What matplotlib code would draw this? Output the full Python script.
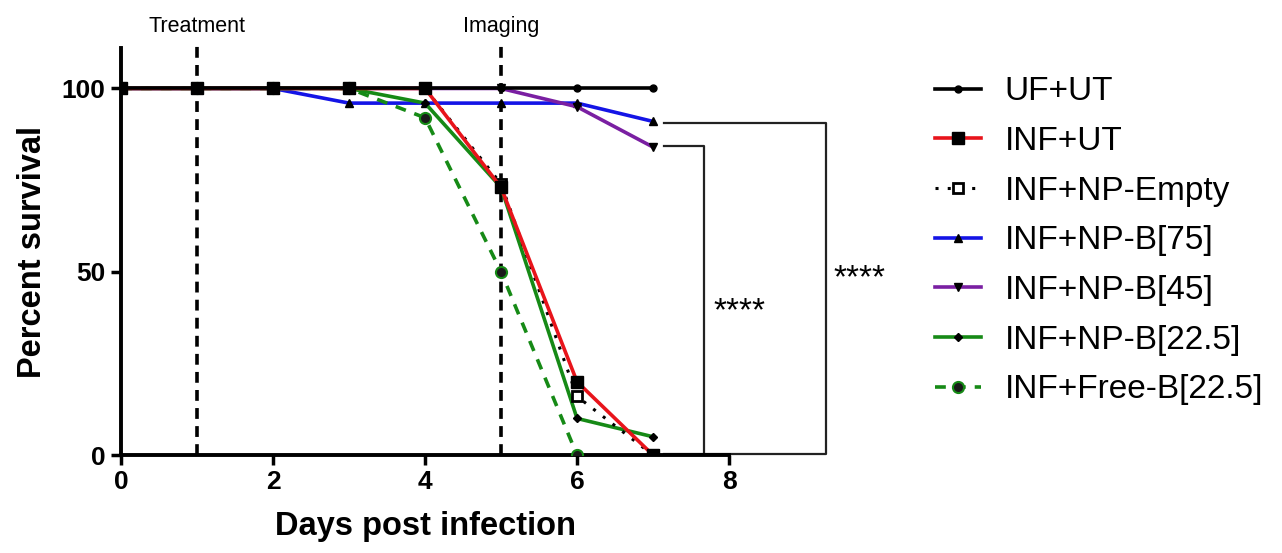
import matplotlib.pyplot as plt
import numpy as np

plt.rcParams['font.family'] = ['Liberation Sans', 'DejaVu Sans']

days = [0, 1, 2, 3, 4, 5, 6, 7]

# percent survival per group
uf_ut = [100, 100, 100, 100, 100, 100, 100, 100]
inf_ut = [100, 100, 100, 100, 100, 73, 20, 0]
inf_np_empty = [100, 100, 100, 100, 100, 74, 16, 0]
inf_np_b75 = [100, 100, 100, 96, 96, 96, 96, 91]
inf_np_b45 = [100, 100, 100, 100, 100, 100, 95, 84]
inf_np_b225 = [100, 100, 100, 100, 96, 73, 10, 5]
inf_free_b225 = [100, 100, 100, 100, 92, 50, 0]

labels = ['UF+UT', 'INF+UT', 'INF+NP-Empty', 'INF+NP-B[75]',
          'INF+NP-B[45]', 'INF+NP-B[22.5]', 'INF+Free-B[22.5]']

# treatment / imaging days
events = [1, 5]
event_names = ['Treatment', 'Imaging']

fig = plt.figure(figsize=(12.82, 5.53), dpi=100)
ax = fig.add_axes([0.0944, 0.177, 0.4743, 0.736])

lw = 2.6
ax.plot(days, uf_ut, color='black', lw=lw, marker='o', ms=5, mfc='black', mec='black', zorder=5, label=labels[0])
ax.plot(days, inf_ut, color='#e8141b', lw=lw, marker='s', ms=8, mfc='black', mec='black', zorder=4.5, label=labels[1])
ax.plot(days, inf_np_empty, color='black', lw=2.2, ls=(0, (1, 3)), marker='s', ms=7, mfc='white',
        mec='black', mew=2, zorder=4, label=labels[2])
ax.plot(days, inf_np_b75, color='#1414e6', lw=lw, marker='^', ms=6, mfc='black', mec='black', zorder=3, label=labels[3])
ax.plot(days, inf_np_b45, color='#7a1fa2', lw=lw, marker='v', ms=6, mfc='black', mec='black', zorder=3, label=labels[4])
ax.plot(days, inf_np_b225, color='#168a16', lw=lw, marker='D', ms=4, mfc='black', mec='black', zorder=3, label=labels[5])
ax.plot(days[:len(inf_free_b225)], inf_free_b225, color='#168a16', lw=lw, ls=(0, (3, 2.5)), marker='o', ms=8,
        mfc='#1a1a1a', mec='#168a16', mew=1.5, zorder=3, label=labels[6])

ax.set_xlim(0, 8)
ax.set_ylim(0, 111)
ax.set_xticks([0, 2, 4, 6, 8])
ax.set_yticks([0, 50, 100])
ax.tick_params(width=2.5, length=7, labelsize=19, pad=4)
for t in ax.get_xticklabels() + ax.get_yticklabels():
    t.set_fontweight('bold')
for s in ['top', 'right']:
    ax.spines[s].set_visible(False)
for s in ['left', 'bottom']:
    ax.spines[s].set_linewidth(2.8)

ax.set_xlabel('Days post infection', fontsize=23.5, fontweight='bold', labelpad=12)
ax.set_ylabel('Percent survival', fontsize=23.5, fontweight='bold', labelpad=10)

top = 112.6
for d, name in zip(events, event_names):
    ax.axvline(d, ymin=0, ymax=top / 111, color='black', lw=2.6, ls=(0, (3, 2)), clip_on=False, zorder=2)
    ax.text(d, 115.4, name, ha='center', va='baseline', fontsize=15.5, clip_on=False)

# significance brackets
ax.plot([7.14, 9.28, 9.28, 7.14], [90.7, 90.7, 0.3, 0.3], color='#222222', lw=1.6, clip_on=False)
ax.plot([7.14, 7.67, 7.67], [84.2, 84.2, 0.3], color='#222222', lw=1.6, clip_on=False)
ax.text(7.79, 39, '****', fontsize=24, va='center', ha='left', clip_on=False)
ax.text(9.37, 48, '****', fontsize=24, va='center', ha='left', clip_on=False)

leg = ax.legend(loc='upper left', bbox_to_anchor=(0.729, 0.862), bbox_transform=fig.transFigure,
                frameon=False, fontsize=24, borderpad=0, borderaxespad=0,
                handlelength=1.4, labelspacing=0.56, handletextpad=0.7)

fig.savefig('out.png', dpi=100)
